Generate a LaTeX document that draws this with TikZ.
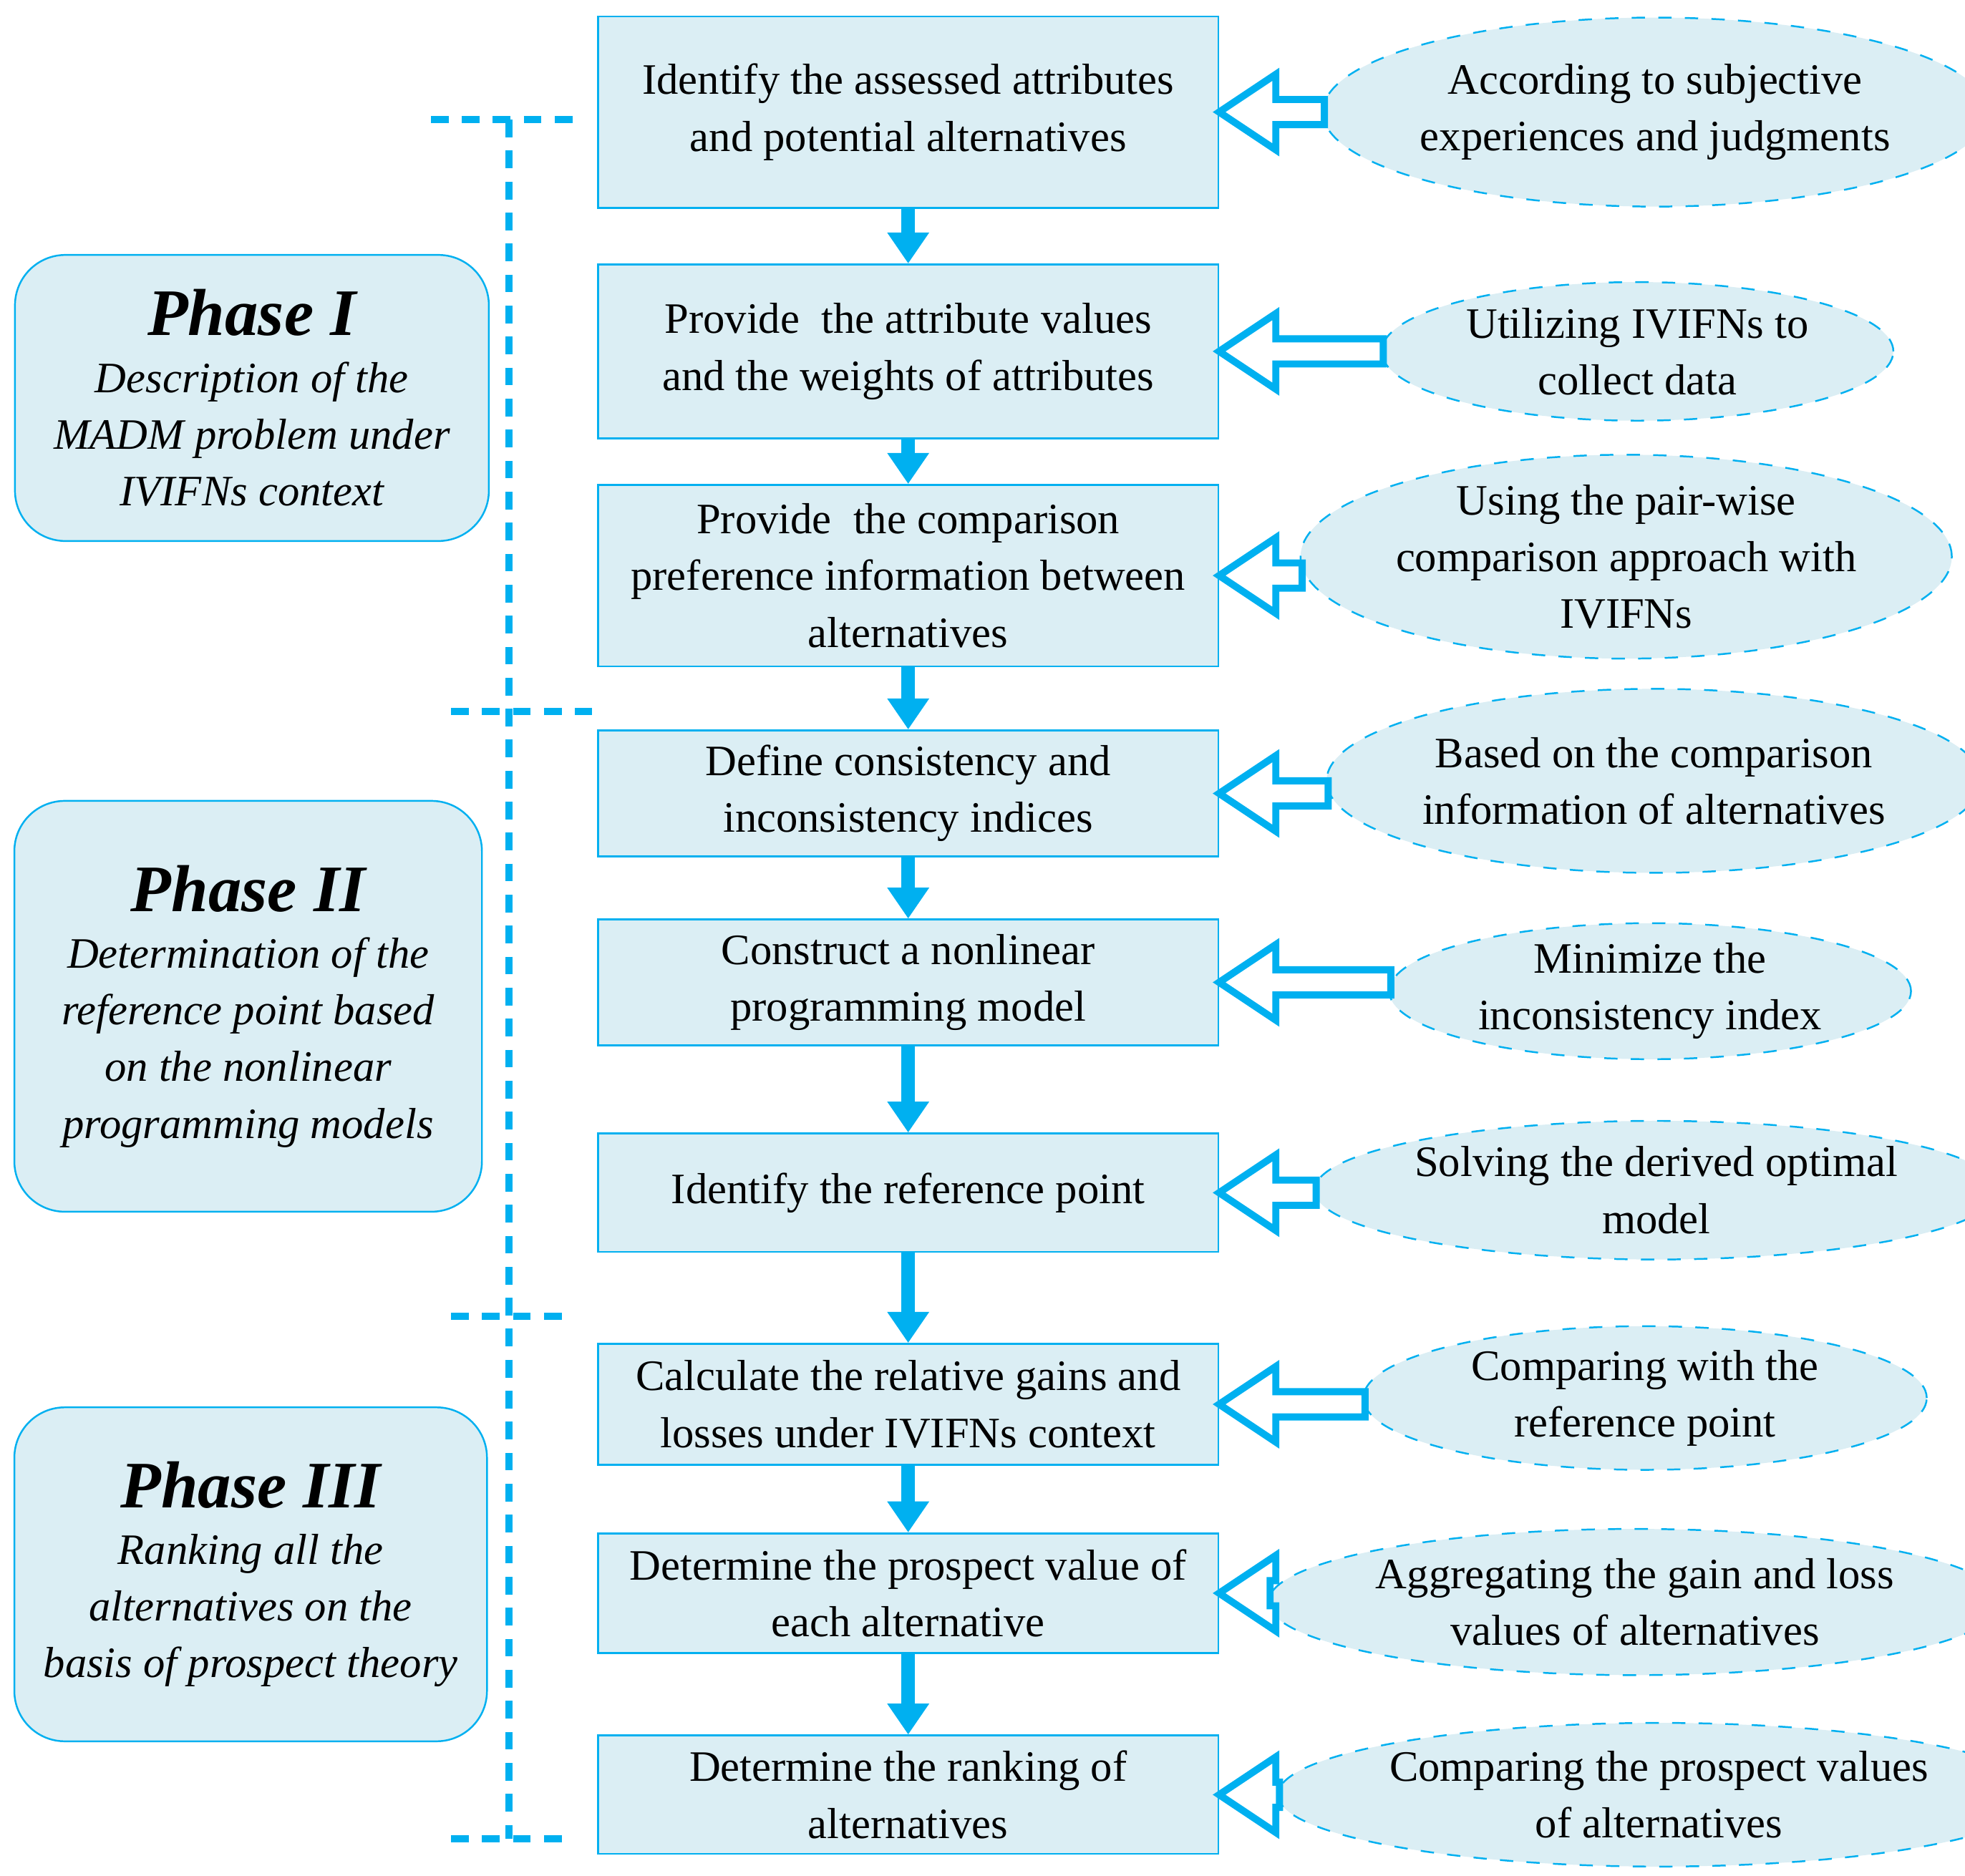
\documentclass[tikz,border=0pt]{standalone}
\usepackage{fontspec}
\setmainfont{Liberation Serif}
\usetikzlibrary{calc,arrows.meta,shapes.geometric}
\definecolor{lineblue}{RGB}{0,176,240}
\definecolor{boxfill}{RGB}{219,238,244}
\tikzset{
  stepbox/.style={draw=lineblue, fill=boxfill, line width=0.4pt, minimum width=4.92cm, align=center, font=\fontsize{9.8}{12.8}\selectfont},
  note/.style={ellipse, draw=lineblue, dashed, fill=boxfill, line width=0.4pt, align=center, inner sep=0pt, font=\fontsize{9.8}{12.8}\selectfont},
  phase/.style={draw=lineblue, fill=boxfill, rounded corners=0.4cm, line width=0.4pt, align=center, font=\fontsize{9.8}{12.8}\selectfont\itshape},
  down/.style={lineblue, line width=3pt, -{Triangle[width=9pt,length=7pt]}},
  hollow/.style={draw=lineblue, fill=white, line width=1.6pt, line join=miter},
  bracket/.style={lineblue, line width=1.6pt, dash pattern=on 4pt off 3pt}
}
% hollow arrow from a note to a step
\newcommand\harrow[2]{%
  \draw[hollow] let \p1=(#1.west), \p2=(#2.east) in
    (\p2) -- (\x2+0.45cm,\y2+0.3cm) -- (\x2+0.45cm,\y2+0.1cm) -- (\x1+0.02cm,\y2+0.1cm)
    -- (\x1+0.02cm,\y2-0.1cm) -- (\x2+0.45cm,\y2-0.1cm) -- (\x2+0.45cm,\y2-0.3cm) -- cycle;}
\begin{document}
\begin{tikzpicture}[x=0.01cm, y=-0.01cm]
\useasboundingbox (0,0) rectangle (1560,1489);

% main steps
\node[stepbox, minimum height=1.52cm] (s1) at (721,89) {Identify the assessed attributes\\and potential alternatives};
\node[stepbox, minimum height=1.38cm] (s2) at (721,279) {Provide\ \ the attribute values\\and the weights of attributes};
\node[stepbox, minimum height=1.44cm] (s3) at (721,457) {Provide\ \ the comparison\\preference information between\\alternatives};
\node[stepbox, minimum height=0.94cm] (s4) at (721,630) {Define consistency and\\inconsistency indices};
\node[stepbox, minimum height=0.95cm] (s5) at (721,780) {Construct a nonlinear\\programming model};
\node[stepbox, minimum height=0.94cm] (s6) at (721,947) {Identify the reference point};
\node[stepbox, minimum height=0.96cm] (s7) at (721,1115) {Calculate the relative gains and\\losses under IVIFNs context};
\node[stepbox, minimum height=0.95cm] (s8) at (721,1265) {Determine the prospect value of\\each alternative};
\node[stepbox, minimum height=0.94cm] (s9) at (721,1425) {Determine the ranking of\\alternatives};

% notes
\node[note, minimum width=4.58cm, minimum height=1.5cm] (n1) at (1314,89) {According to subjective\\experiences and judgments};
\node[note, minimum width=4.06cm, minimum height=1.1cm] (n2) at (1300,279) {Utilizing IVIFNs to\\collect data};
\node[note, minimum width=4.52cm, minimum height=1.3cm] (n3) at (1291,442) {Using the pair-wise\\comparison approach with\\IVIFNs};
\node[note, minimum width=4.4cm, minimum height=1.46cm] (n4) at (1313,620) {Based on the comparison\\information of alternatives};
\node[note, minimum width=4.14cm, minimum height=1.06cm] (n5) at (1310,787) {Minimize the\\inconsistency index};
\node[note, minimum width=4.36cm, minimum height=1.1cm] (n6) at (1315,945) {Solving the derived optimal\\model};
\node[note, minimum width=4.47cm, minimum height=1.14cm] (n7) at (1306,1110) {Comparing with the\\reference point};
\node[note, minimum width=4.7cm, minimum height=1.16cm] (n8) at (1298,1272) {Aggregating the gain and loss\\values of alternatives};
\node[note, minimum width=4.8cm, minimum height=1.14cm] (n9) at (1317,1425) {Comparing the prospect values\\of alternatives};

% phases
\node[phase, minimum width=3.76cm, minimum height=2.27cm] (p1) at (200,316) {{\fontsize{15}{18}\selectfont\bfseries Phase I}\\Description of the\\MADM problem under\\IVIFNs context};
\node[phase, minimum width=3.71cm, minimum height=3.26cm] (p2) at (197,799) {{\fontsize{15}{18}\selectfont\bfseries Phase II}\\Determination of the\\reference point based\\on the nonlinear\\programming models};
\node[phase, minimum width=3.75cm, minimum height=2.65cm] (p3) at (199,1250) {{\fontsize{15}{18}\selectfont\bfseries Phase III}\\Ranking all the\\alternatives on the\\basis of prospect theory};

% flow
\foreach \a/\b in {s1/s2,s2/s3,s3/s4,s4/s5,s5/s6,s6/s7,s7/s8,s8/s9}
  \draw[down] (\a) -- (\b);
\foreach \i in {1,...,9}
  \harrow{n\i}{s\i};

% bracket
\coordinate (t1) at (404,95);
\coordinate (t2) at (404,1460);
\draw[bracket] (t1) -- (t2);
\draw[bracket] (342,95) -- (457,95);
\draw[bracket] (358,565) -- (470,565);
\draw[bracket] (358,1045) -- (452,1045);
\draw[bracket] (358,1460) -- (452,1460);
\end{tikzpicture}
\end{document}
